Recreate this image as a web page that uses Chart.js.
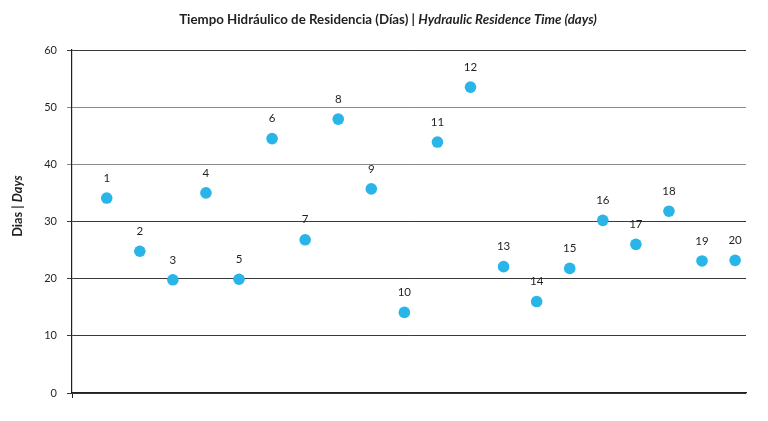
<!DOCTYPE html>
<html>
<head>
<meta charset="utf-8">
<script src="https://cdn.jsdelivr.net/npm/chart.js@4.4.0/dist/chart.umd.min.js"></script>
<style>
  html, body { margin: 0; padding: 0; background: #fff; }
  #wrap { width: 768px; height: 421px; position: relative; }
</style>
</head>
<body>
<div id="wrap"><canvas id="chartBase"></canvas></div>
<script>
// datos
const puntos = [1, 2, 3, 4, 5, 6, 7, 8, 9, 10, 11, 12, 13, 14, 15, 16, 17, 18, 19, 20];
const dias = [34.1, 24.8, 19.8, 35.0, 19.9, 44.5, 26.8, 47.9, 35.7, 14.1,
              43.9, 53.5, 22.1, 16.0, 21.8, 30.2, 26.0, 31.8, 23.1, 23.2];
const yTicks = [0, 10, 20, 30, 40, 50, 60];

const tituloEs = "Tiempo Hidráulico de Residencia (Días) | ";
const tituloEn = "Hydraulic Residence Time (days)";
const ejeEs = "Dias | ";
const ejeEn = "Days";

const FONT = "Lato, 'Open Sans', sans-serif";

// titulo y etiqueta del eje con partes en cursiva
const textosPlugin = {
  id: "textos",
  afterDraw: function (chart) {
    const ctx = chart.ctx;
    ctx.save();
    ctx.fillStyle = "#231f20";
    ctx.textBaseline = "middle";

    ctx.font = "bold 13.3px " + FONT;
    const w1 = ctx.measureText(tituloEs).width;
    ctx.font = "italic bold 13.3px " + FONT;
    const w2 = ctx.measureText(tituloEn).width;
    let x = 388 - (w1 + w2) / 2;
    ctx.textAlign = "left";
    ctx.font = "bold 13.3px " + FONT;
    ctx.fillText(tituloEs, x, 20);
    ctx.font = "italic bold 13.3px " + FONT;
    ctx.fillText(tituloEn, x + w1, 20);

    ctx.translate(18, 206);
    ctx.rotate(-Math.PI / 2);
    ctx.font = "bold 12.8px " + FONT;
    const a1 = ctx.measureText(ejeEs).width;
    ctx.font = "italic bold 12.8px " + FONT;
    const a2 = ctx.measureText(ejeEn).width;
    const sx = -(a1 + a2) / 2;
    ctx.font = "bold 12.8px " + FONT;
    ctx.fillText(ejeEs, sx, 0);
    ctx.font = "italic bold 12.8px " + FONT;
    ctx.fillText(ejeEn, sx + a1, 0);
    ctx.restore();
  }
};

// numeros encima de cada punto
const etiquetasPlugin = {
  id: "etiquetas",
  afterDatasetsDraw: function (chart) {
    const ctx = chart.ctx;
    const meta = chart.getDatasetMeta(0);
    ctx.save();
    ctx.font = "11.5px " + FONT;
    ctx.fillStyle = "#231f20";
    ctx.textAlign = "center";
    ctx.textBaseline = "middle";
    for (let i = 0; i < meta.data.length; i++) {
      const p = meta.data[i];
      ctx.fillText(String(puntos[i]), p.x, p.y - 20);
    }
    ctx.restore();
  }
};

const datos = [];
for (let i = 0; i < puntos.length; i++) {
  datos.push({ x: puntos[i], y: dias[i] });
}

new Chart(document.getElementById("chartBase"), {
  type: "scatter",
  data: {
    datasets: [{
      data: datos,
      backgroundColor: "#29b5e8",
      borderWidth: 0,
      pointRadius: 5.8,
      pointHoverRadius: 5.8
    }]
  },
  options: {
    responsive: true,
    maintainAspectRatio: false,
    animation: false,
    layout: { padding: { top: 50, right: 22, left: 0, bottom: 0 } },
    plugins: {
      legend: { display: false },
      tooltip: { enabled: false }
    },
    scales: {
      x: {
        type: "linear",
        min: -0.05,
        max: 20.33,
        afterBuildTicks: function (s) { s.ticks = [{ value: s.min }]; },
        afterFit: function (s) { s.height = 28; },
        ticks: { display: false },
        grid: { drawOnChartArea: false, tickLength: 5, color: "#231f20" },
        border: { color: "#231f20", width: 1.2 }
      },
      y: {
        min: 0,
        max: 60,
        afterBuildTicks: function (s) {
          s.ticks = yTicks.map(function (v) { return { value: v }; });
        },
        afterFit: function (s) { s.width = 72; },
        ticks: {
          color: "#231f20",
          padding: 10,
          font: { family: FONT, size: 11 }
        },
        grid: {
          tickLength: 5,
          lineWidth: 1,
          color: function (c) {
            const v = c.tick ? c.tick.value : 0;
            return (v === 40 || v === 50) ? "#8a8a8a" : "#3a3a3a";
          }
        },
        border: { color: "#231f20", width: 1.2 }
      }
    }
  },
  plugins: [textosPlugin, etiquetasPlugin]
});
</script>
</body>
</html>
